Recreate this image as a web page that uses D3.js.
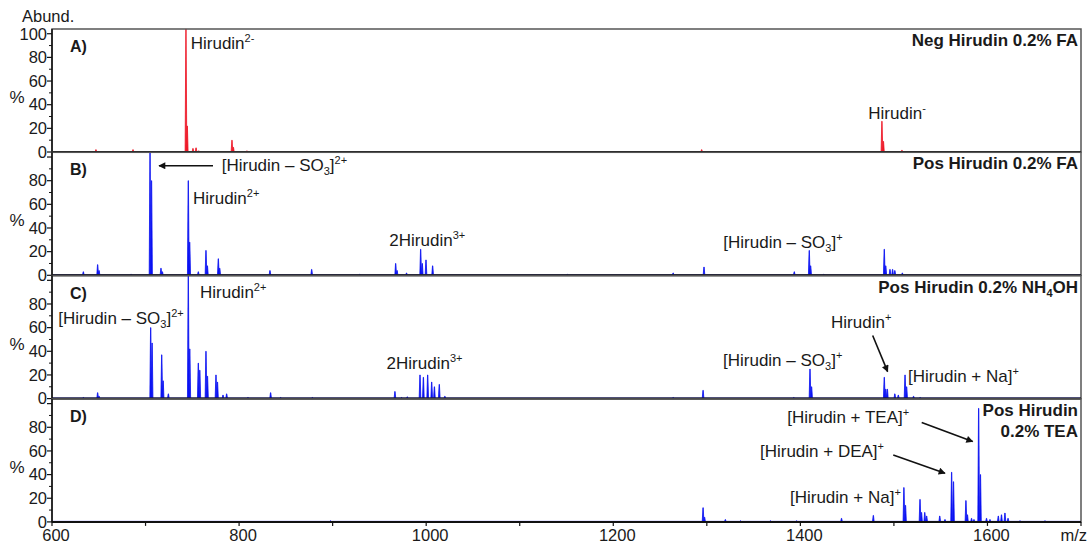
<!DOCTYPE html>
<html>
<head>
<meta charset="utf-8">
<script src="https://cdn.jsdelivr.net/npm/d3@7"></script>
<style>
  body { margin: 0; background: #fff; }
  text { font-family: "Liberation Sans", Arial, sans-serif; fill: #1a1a1a; }
</style>
</head>
<body>
<svg id="chart" width="1090" height="545"></svg>
<script>
// ---- axis definitions ----
const mzDomain = [600, 1700];
const xTickValues = [600, 700, 800, 900, 1000, 1100, 1200, 1300, 1400, 1500, 1600, 1700];
const xLabelValues = [600, 800, 1000, 1200, 1400, 1600];
const yMajorTicks = [0, 20, 40, 60, 80, 100];
const yMinorTicks = [10, 30, 50, 70, 90];
const pctDomain = [0, 104];

// ---- spectra: [m/z, relative abundance %] ----
const peaksA = [
  [647, 2], [686.6, 2], [743.2, 104], [744.6, 22], [750.7, 3], [754, 3.5], [757, 1],
  [792.4, 10], [793.9, 4], [808.4, 1], [1294.5, 2], [1487.2, 26], [1488.8, 9], [1508.6, 1.5]
];
const peaksB = [
  [633.5, 3], [648.8, 9], [650.3, 4], [684.5, 1], [704.8, 104], [706.4, 80], [716.5, 6], [718, 3],
  [745.7, 80], [747.2, 28], [756.4, 3], [764.6, 21], [766.1, 8], [777.8, 14], [779.3, 6],
  [833, 4], [877.6, 5], [929, 1], [967.4, 10], [968.9, 4], [979, 2], [994.1, 22], [995.8, 10],
  [999.8, 13], [1006.9, 8], [1151, 1], [1264, 2], [1297, 7], [1393.5, 3], [1409.5, 21],
  [1411, 8], [1425, 1], [1489.7, 22], [1491.3, 8], [1495.8, 5], [1498.6, 5], [1501, 4], [1509, 2]
];
const peaksC = [
  [633.5, 1], [648.8, 5], [650.3, 2], [705.5, 60], [707, 47], [717.3, 37], [718.8, 15], [724.4, 4],
  [745.7, 104], [747.3, 42], [756.4, 30], [758, 24], [764.6, 40], [766.2, 19], [775.3, 20],
  [776.9, 14], [782.8, 3], [786.7, 4], [809.5, 1], [833.7, 5], [844.4, 1], [878.3, 1],
  [966.6, 6], [973.7, 1], [979.8, 1.5], [993.4, 20], [997, 18], [1001.6, 20], [1005.9, 14],
  [1008.8, 10], [1014, 12], [1020, 2], [1264, 1], [1296, 7], [1393, 1], [1410.3, 25],
  [1412, 10], [1489.7, 18], [1491.3, 8], [1493, 8], [1501, 4], [1504.7, 3], [1511.9, 20],
  [1513.6, 10], [1521, 2], [1528, 1]
];
const peaksD = [
  [897.7, 1], [1296, 12], [1297.6, 4], [1319.8, 2], [1336, 1], [1368, 1], [1396, 1], [1444, 3],
  [1478, 5.5], [1510.7, 29], [1512.4, 14], [1527.9, 19], [1529.5, 8], [1533, 8], [1535, 5],
  [1549, 5], [1554.6, 2], [1561.7, 42], [1563.7, 34], [1577, 18], [1578.6, 6], [1583, 3],
  [1585.6, 2], [1590.6, 96], [1592.5, 40], [1599, 3], [1602.7, 2], [1611.6, 5], [1615, 6],
  [1618.7, 7.5], [1622, 3], [1634.8, 1], [1661.5, 1]
];

const panelLetters = ["A)", "B)", "C)", "D)"];
const panelTitles = [
  [[{ t: "Neg Hirudin 0.2% FA" }]],
  [[{ t: "Pos Hirudin 0.2% FA" }]],
  [[{ t: "Pos Hirudin 0.2% NH" }, { t: "4", sub: true }, { t: "OH" }]],
  [[{ t: "Pos Hirudin" }], [{ t: "0.2% TEA" }]]
];

// ---- peak annotations (positioned in m/z, % coordinates) ----
const SO3 = [{ t: "[Hirudin \u2013 SO" }, { t: "3", sub: true }, { t: "]" }];
const annotations = [
  [
    { parts: [{ t: "Hirudin" }, { t: "2-", sup: true }], mz: 748.3, pct: 87 },
    { parts: [{ t: "Hirudin" }, { t: "-", sup: true }], mz: 1472.6, pct: 28 }
  ],
  [
    { parts: SO3.concat([{ t: "2+", sup: true }]), mz: 781.4, pct: 88.4,
      arrow: [[772.1, 92.6], [714.4, 92.6]] },
    { parts: [{ t: "Hirudin" }, { t: "2+", sup: true }], mz: 750.7, pct: 60.2 },
    { parts: [{ t: "2Hirudin" }, { t: "3+", sup: true }], mz: 960.6, pct: 24.9 },
    { parts: SO3.concat([{ t: "+", sup: true }]), mz: 1317.6, pct: 23.5 }
  ],
  [
    { parts: [{ t: "Hirudin" }, { t: "2+", sup: true }], mz: 758.2, pct: 84.8 },
    { parts: SO3.concat([{ t: "2+", sup: true }]), mz: 606.7, pct: 63.2 },
    { parts: [{ t: "2Hirudin" }, { t: "3+", sup: true }], mz: 957.7, pct: 25.1 },
    { parts: SO3.concat([{ t: "+", sup: true }]), mz: 1317.3, pct: 27.9 },
    { parts: [{ t: "Hirudin" }, { t: "+", sup: true }], mz: 1432.8, pct: 60,
      arrow: [[1477.3, 53.3], [1493.3, 22.8]] },
    { parts: [{ t: "[Hirudin + Na]" }, { t: "+", sup: true }], mz: 1515.1, pct: 13.8 }
  ],
  [
    { parts: [{ t: "[Hirudin + TEA]" }, { t: "+", sup: true }], mz: 1386, pct: 83.7,
      arrow: [[1529.7, 84], [1584.2, 67.9]] },
    { parts: [{ t: "[Hirudin + DEA]" }, { t: "+", sup: true }], mz: 1356.8, pct: 55.2,
      arrow: [[1499.3, 56.6], [1554.6, 41.2]] },
    { parts: [{ t: "[Hirudin + Na]" }, { t: "+", sup: true }], mz: 1388.9, pct: 16.3 }
  ]
];

const spectra = [peaksA, peaksB, peaksC, peaksD];
const colors = ["#ee1626", "#0a12f2", "#0a12f2", "#0a12f2"];

// ---- layout ----
const plotLeft = 52, plotRight = 1081;
const firstTop = 29, panelStep = 123.3, panelH = 123;
const fontSize = 17, tickFont = 16.5;

const svg = d3.select("#chart");
const x = d3.scaleLinear().domain(mzDomain).range([plotLeft, plotRight]);

svg.append("defs").append("marker")
  .attr("id", "arrowhead")
  .attr("viewBox", "0 0 10 10")
  .attr("refX", 9).attr("refY", 5)
  .attr("markerWidth", 9).attr("markerHeight", 7)
  .attr("markerUnits", "userSpaceOnUse")
  .attr("orient", "auto")
  .append("path").attr("d", "M0,0 L10,5 L0,10 Z").attr("fill", "#111");

// write a label made of plain, superscript and subscript pieces
function writeParts(textSel, parts) {
  let shift = 0;
  parts.forEach(p => {
    const own = p.sup ? -7 : p.sub ? 4 : 0;
    const ts = textSel.append("tspan").text(p.t).attr("dy", own - shift);
    if (p.sup || p.sub) ts.attr("font-size", 11);
    shift = own;
  });
}

svg.append("text")
  .attr("x", 22).attr("y", 22)
  .attr("font-size", tickFont)
  .text("Abund.");

spectra.forEach((peaks, i) => {
  const top = firstTop + i * panelStep;
  const base = top + panelH;
  const y = d3.scaleLinear().domain(pctDomain).range([base, top]).clamp(true);
  const g = svg.append("g");

  // spectrum baseline
  g.append("line")
    .attr("x1", plotLeft).attr("x2", plotRight)
    .attr("y1", base - 0.5).attr("y2", base - 0.5)
    .attr("stroke", colors[i]).attr("stroke-width", 1);

  // peaks as narrow profile triangles
  g.selectAll("path.peak").data(peaks).join("path")
    .attr("class", "peak")
    .attr("d", d => {
      const [mz, v] = d;
      return `M${x(mz - 0.9)},${base} L${x(mz - 0.15)},${y(v)} L${x(mz + 0.15)},${y(v)} L${x(mz + 0.9)},${base} Z`;
    })
    .attr("fill", colors[i])
    .attr("stroke", colors[i])
    .attr("stroke-width", 0.8);

  // frame
  g.append("rect")
    .attr("x", plotLeft).attr("y", top)
    .attr("width", plotRight - plotLeft).attr("height", panelH)
    .attr("fill", "none").attr("stroke", "#555").attr("stroke-width", 1.5);
  g.append("line")
    .attr("x1", plotLeft).attr("x2", plotRight).attr("y1", base).attr("y2", base)
    .attr("stroke", "#111").attr("stroke-width", 2);
  g.append("line")
    .attr("x1", plotLeft).attr("x2", plotLeft).attr("y1", top).attr("y2", base)
    .attr("stroke", "#111").attr("stroke-width", 1.5);

  // y axis ticks
  g.selectAll("line.ymaj").data(yMajorTicks).join("line")
    .attr("x1", plotLeft - 5).attr("x2", plotLeft)
    .attr("y1", d => y(d)).attr("y2", d => y(d))
    .attr("stroke", "#111").attr("stroke-width", 1.2);
  g.selectAll("line.ymin").data(yMinorTicks).join("line")
    .attr("x1", plotLeft - 3).attr("x2", plotLeft)
    .attr("y1", d => y(d)).attr("y2", d => y(d))
    .attr("stroke", "#111").attr("stroke-width", 1);
  g.selectAll("text.ylab").data(i === 0 ? yMajorTicks : yMajorTicks.filter(v => v < 100)).join("text")
    .attr("x", plotLeft - 5).attr("y", d => y(d))
    .attr("dy", "0.35em")
    .attr("text-anchor", "end")
    .attr("font-size", tickFont)
    .text(d => d);

  g.append("text")
    .attr("x", 17).attr("y", top + 68)
    .attr("dy", "0.35em")
    .attr("text-anchor", "middle")
    .attr("font-size", fontSize)
    .text("%");

  // panel letter
  g.append("text")
    .attr("x", 70).attr("y", top + 23)
    .attr("font-size", fontSize - 1).attr("font-weight", "bold")
    .text(panelLetters[i]);

  // condition title, right aligned
  panelTitles[i].forEach((line, k) => {
    const t = g.append("text")
      .attr("x", plotRight - 3).attr("y", top + 17 + k * 21)
      .attr("text-anchor", "end")
      .attr("font-size", fontSize).attr("font-weight", "bold");
    writeParts(t, line);
  });

  // annotations
  annotations[i].forEach(a => {
    const t = g.append("text")
      .attr("x", x(a.mz)).attr("y", y(a.pct))
      .attr("font-size", fontSize);
    writeParts(t, a.parts);
    if (a.arrow) {
      g.append("line")
        .attr("x1", x(a.arrow[0][0])).attr("y1", y(a.arrow[0][1]))
        .attr("x2", x(a.arrow[1][0])).attr("y2", y(a.arrow[1][1]))
        .attr("stroke", "#111").attr("stroke-width", 1.6)
        .attr("marker-end", "url(#arrowhead)");
    }
  });

  // m/z axis under the last panel
  if (i === spectra.length - 1) {
    g.selectAll("line.xt").data(xTickValues).join("line")
      .attr("x1", d => x(d)).attr("x2", d => x(d))
      .attr("y1", base).attr("y2", base + 4)
      .attr("stroke", "#111").attr("stroke-width", 1.2);
    g.selectAll("text.xl").data(xLabelValues).join("text")
      .attr("x", d => x(d) + 4).attr("y", base + 19)
      .attr("text-anchor", "middle")
      .attr("font-size", tickFont)
      .text(d => d);
    g.append("text")
      .attr("x", plotRight + 6).attr("y", base + 19)
      .attr("text-anchor", "end")
      .attr("font-size", tickFont)
      .text("m/z");
  }
});
</script>
</body>
</html>
